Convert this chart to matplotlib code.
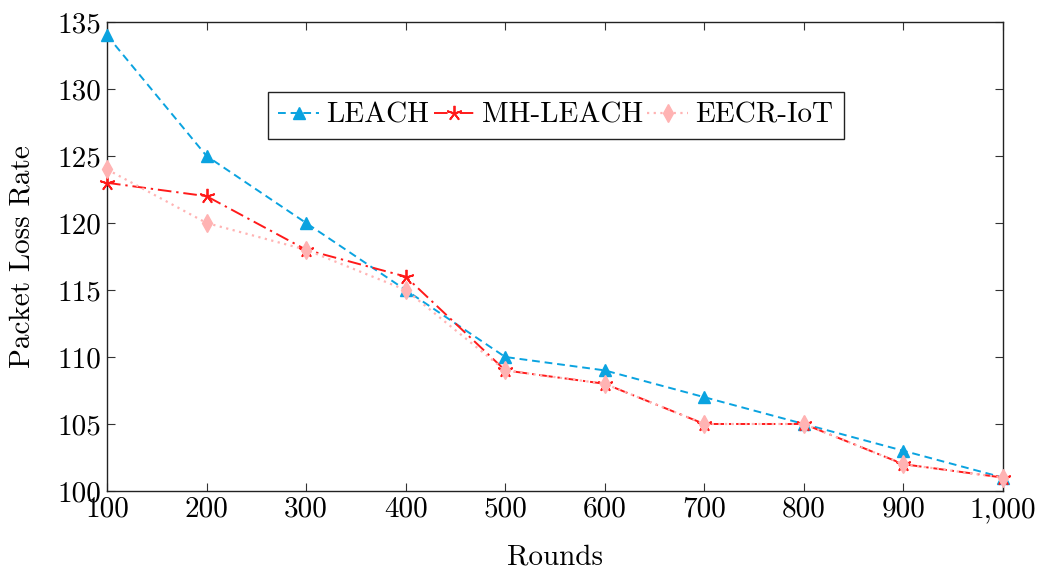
import numpy as np
import matplotlib.pyplot as plt
from matplotlib.ticker import FixedLocator, FixedFormatter

plt.rcParams['font.family'] = ['cmr10', 'DejaVu Serif']
plt.rcParams['axes.unicode_minus'] = False
plt.rcParams['mathtext.fontset'] = 'cm'

# Data
rounds = [100, 200, 300, 400, 500, 600, 700, 800, 900, 1000]
leach = [134, 125, 120, 115, 110, 109, 107, 105, 103, 101]
mh_leach = [123, 122, 118, 116, 109, 108, 105, 105, 102, 101]
eecr_iot = [124, 120, 118, 115, 109, 108, 105, 105, 102, 101]
x_tick_labels = ['100', '200', '300', '400', '500', '600', '700', '800', '900', '1,000']
y_ticks = [100, 105, 110, 115, 120, 125, 130, 135]

fig = plt.figure(figsize=(10.42, 5.74), dpi=100)
ax = fig.add_axes([0.1027, 0.1446, 0.8599, 0.8171])

ax.plot(rounds, leach, color='#0aa3e0', linestyle=(0, (4, 2.5)), linewidth=1.4,
        marker='^', markersize=9, label='LEACH', clip_on=False, zorder=3)
ax.plot(rounds, mh_leach, color='#ff1a1a', linestyle=(0, (7, 2.5, 1.2, 2.5)), linewidth=1.4,
        marker=(5, 2, 0), markersize=11, markeredgewidth=1.3, label='MH-LEACH',
        clip_on=False, zorder=4)
ax.plot(rounds, eecr_iot, color='#ffb3b3', linestyle=(0, (1, 2)), linewidth=1.6,
        marker='d', markersize=9, label='EECR-IoT', clip_on=False, zorder=5)

ax.set_xlim(100, 1000)
ax.set_ylim(100, 135)
ax.xaxis.set_major_locator(FixedLocator(rounds))
ax.xaxis.set_major_formatter(FixedFormatter(x_tick_labels))
ax.set_yticks(y_ticks)

ax.tick_params(direction='in', length=6, width=0.8, top=True, right=True,
               labelsize=21, color='#333333', pad=4)
for s in ax.spines.values():
    s.set_linewidth(1.0)
    s.set_color('#222222')

ax.set_xlabel('Rounds', fontsize=21, labelpad=15)
ax.set_ylabel('Packet Loss Rate', fontsize=21, labelpad=16)

leg = ax.legend(loc='center', bbox_to_anchor=(0.501, 0.80), ncol=3, fontsize=21,
                frameon=True, fancybox=False, handlelength=1.4, handletextpad=0.25,
                columnspacing=0.15, borderpad=0.35, borderaxespad=0)
leg.get_frame().set_edgecolor('#222222')
leg.get_frame().set_linewidth(1.0)
leg.get_frame().set_alpha(1)

fig.savefig('out.png', dpi=100)
